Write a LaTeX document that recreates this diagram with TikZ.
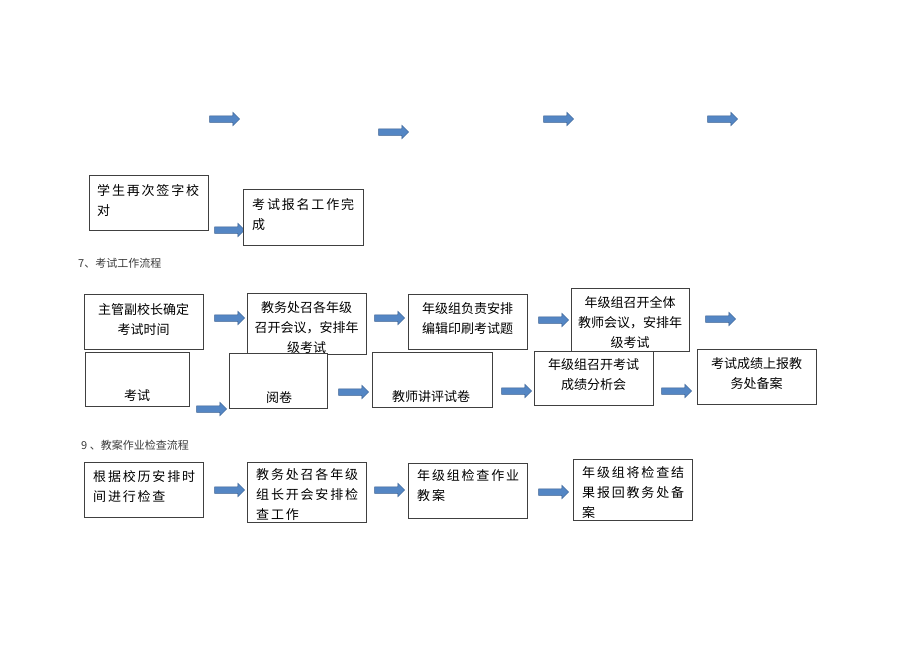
\documentclass[tikz,border=0pt]{standalone}
\usepackage{fontspec}
\newfontfamily\cjk{Noto Sans CJK SC}
\newfontfamily\cjksp[LetterSpace=14]{Noto Sans CJK SC}
\usetikzlibrary{shapes.arrows}
\definecolor{boxgray}{RGB}{64,64,64}
\definecolor{arrowfill}{RGB}{84,134,196}
\definecolor{arrowline}{RGB}{58,96,145}
\definecolor{headgray}{RGB}{60,60,60}
\begin{document}
\begin{tikzpicture}[x=1pt,y=-1pt,
  box/.style={draw=boxgray, line width=0.8pt, fill=white, inner sep=0pt, anchor=north west},
  txt/.style={inner sep=0pt, font=\cjk\fontsize{13}{20}\selectfont, align=center, text=black},
  txtl/.style={inner sep=0pt, font=\cjksp\fontsize{13}{20}\selectfont, align=left, anchor=west, text=black},
  head/.style={inner sep=0pt, font=\cjk\fontsize{11}{13}\selectfont, anchor=west, text=headgray},
  barrow/.style={single arrow, draw=arrowline, fill=arrowfill, line width=0.5pt,
    minimum height=30pt, inner sep=3pt, single arrow head extend=3.5pt,
    single arrow tip angle=90, anchor=center}
]
\useasboundingbox[fill=white] (0,0) rectangle (920,651);

% ---------- top stray arrows ----------
\node[barrow] (ta1) at (223,119) {};
\node[barrow] (ta2) at (392,132) {};
\node[barrow] (ta3) at (557,119) {};
\node[barrow] (ta4) at (721,119) {};

% ---------- top boxes ----------
\node[box, minimum width=119pt, minimum height=55pt] (s1) at (89,175) {};
\node[txtl] (s1t) at (97,200) {学生再次签字校\\对};
\node[barrow] (sa1) at (228,230) {};
\node[box, minimum width=120pt, minimum height=56pt] (s2) at (243,189) {};
\node[txtl] (s2t) at (252,215) {考试报名工作完\\成};

% ---------- section 7 ----------
\node[head] (h7) at (78,263) {7、考试工作流程};

\node[box, minimum width=119pt, minimum height=55pt] (r1) at (84,294) {};
\node[txt] (r1t) at (143.5,319.5) {主管副校长确定\\考试时间};
\node[barrow] (ra1) at (228,318) {};
\node[box, minimum width=119pt, minimum height=61pt] (r2) at (247,293) {};
\node[txt] (r2t) at (306.5,327.5) {教务处召各年级\\召开会议，安排年\\级考试};
\node[barrow] (ra2) at (388,318) {};
\node[box, minimum width=119pt, minimum height=55pt] (r3) at (408,294) {};
\node[txt] (r3t) at (467.5,318.5) {年级组负责安排\\编辑印刷考试题};
\node[barrow] (ra3) at (552,320) {};
\node[box, minimum width=118pt, minimum height=63pt] (r4) at (571,288) {};
\node[txt] (r4t) at (630,322.5) {年级组召开全体\\教师会议，安排年\\级考试};
\node[barrow] (ra4) at (719,319) {};

% second row
\node[box, minimum width=104pt, minimum height=54pt] (q1) at (85,352) {};
\node[txt] (q1t) at (137,396) {考试};
\node[barrow] (qa1) at (210,409) {};
\node[box, minimum width=98pt, minimum height=55pt] (q2) at (229,353) {};
\node[txt] (q2t) at (279,398) {阅卷};
\node[barrow] (qa2) at (352,392) {};
\node[box, minimum width=120pt, minimum height=55pt] (q3) at (372,352) {};
\node[txt] (q3t) at (431,397) {教师讲评试卷};
\node[barrow] (qa3) at (515,391) {};
\node[box, minimum width=119pt, minimum height=54pt] (q4) at (534,351) {};
\node[txt] (q4t) at (593.5,375) {年级组召开考试\\成绩分析会};
\node[barrow] (qa4) at (675,391) {};
\node[box, minimum width=119pt, minimum height=55pt] (q5) at (697,349) {};
\node[txt] (q5t) at (756.5,373.5) {考试成绩上报教\\务处备案};

% ---------- section 9 ----------
\node[head] (h9) at (81,445) {9 、教案作业检查流程};

\node[box, minimum width=119pt, minimum height=55pt] (p1) at (84,462) {};
\node[txtl] (p1t) at (93,486.5) {根据校历安排时\\间进行检查};
\node[barrow] (pa1) at (228,490) {};
\node[box, minimum width=119pt, minimum height=60pt] (p2) at (247,462) {};
\node[txtl] (p2t) at (256,494) {教务处召各年级\\组长开会安排检\\查工作};
\node[barrow] (pa2) at (388,490) {};
\node[box, minimum width=119pt, minimum height=55pt] (p3) at (408,463) {};
\node[txtl] (p3t) at (417,486) {年级组检查作业\\教案};
\node[barrow] (pa3) at (552,492) {};
\node[box, minimum width=119pt, minimum height=61pt] (p4) at (573,459) {};
\node[txtl] (p4t) at (582,492.5) {年级组将检查结\\果报回教务处备\\案};
\end{tikzpicture}
\end{document}
